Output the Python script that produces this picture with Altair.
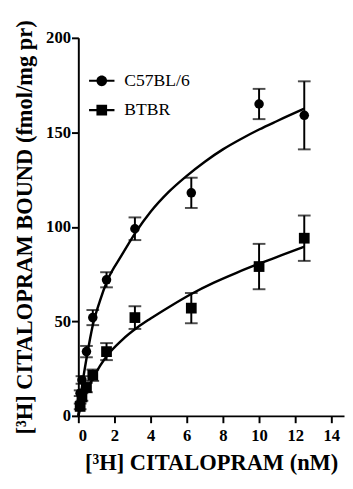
import altair as alt
import pandas as pd

# ---- data ----
strains = ["C57BL/6", "BTBR"]
conc = [0.1, 0.2, 0.45, 0.8, 1.56, 3.13, 6.25, 10, 12.5]
c57_mean = [12, 19, 34, 52, 72, 99, 118, 165, 159]
c57_sem = [1.5, 2, 3, 4, 4, 6, 8, 8, 18]
btbr_mean = [5, 10, 15, 21.5, 34, 52, 57, 79, 94]
btbr_sem = [1.5, 2, 2.5, 3, 4.5, 6, 8, 12, 12]

c57_fit_x = [0, 0.1, 0.25, 0.5, 0.8, 1.2, 1.6, 2.4, 3.2, 4, 5, 6, 7, 8, 9, 10, 11, 12.5]
c57_fit_y = [0, 8, 18.5, 33, 48, 61, 71.5, 85, 97.5, 108, 118.5, 127, 134.5, 141, 146.5, 151.5, 156, 162.5]
btbr_fit_x = [0, 0.1, 0.25, 0.5, 0.87, 1.2, 1.6, 2.4, 3.3, 4, 5, 6.25, 7.5, 8.75, 10, 11.25, 12.5]
btbr_fit_y = [0, 3.5, 8, 14, 21, 26.5, 32, 40, 47, 51.5, 57.5, 64.5, 70.5, 75.7, 80.5, 85, 89.5]

x_ticks = [0, 2, 4, 6, 8, 10, 12, 14]
y_ticks = [0, 50, 100, 150, 200]

points = pd.DataFrame({
    "conc": conc + conc,
    "bound": c57_mean + btbr_mean,
    "sem": c57_sem + btbr_sem,
    "strain": [strains[0]] * len(conc) + [strains[1]] * len(conc),
})
fit = pd.DataFrame({
    "conc": c57_fit_x + btbr_fit_x,
    "bound": c57_fit_y + btbr_fit_y,
    "strain": [strains[0]] * len(c57_fit_x) + [strains[1]] * len(btbr_fit_x),
})

FONT = "Liberation Serif"

x_axis = alt.Axis(
    values=x_ticks, title="[³H] CITALOPRAM (nM)", grid=False, labelOverlap=False,
    domainColor="black", domainWidth=2, tickColor="black", tickWidth=2, tickSize=7,
    labelFont=FONT, labelFontWeight="bold", labelFontSize=17, labelColor="black",
    labelPadding=5, titleFont=FONT, titleFontSize=23, titleFontWeight="bold",
    titleColor="black", titlePadding=9,
)
y_axis = alt.Axis(
    values=y_ticks, title="[³H] CITALOPRAM BOUND (fmol/mg pr)", grid=False, labelOverlap=False,
    domainColor="black", domainWidth=2, tickColor="black", tickWidth=2, tickSize=7,
    labelFont=FONT, labelFontWeight="bold", labelFontSize=17, labelColor="black",
    labelPadding=1, titleFont=FONT, titleFontSize=23, titleFontWeight="bold",
    titleColor="black", titlePadding=9,
)

xs = alt.Scale(domain=[0, 14.7], nice=False)
ys = alt.Scale(domain=[0, 200], nice=False)

X = alt.X("conc:Q", scale=xs, axis=x_axis)


def Yf(field):
    return alt.Y(field, scale=ys, axis=y_axis)


curve = alt.Chart(fit).mark_line(color="black", strokeWidth=2.5, interpolate="monotone").encode(
    x=X, y=Yf("bound:Q"), detail="strain:N"
)

err_base = alt.Chart(points).transform_calculate(
    lo="datum.bound - datum.sem", hi="datum.bound + datum.sem"
)
err = err_base.mark_rule(color="black", strokeWidth=2).encode(
    x=X, y=Yf("lo:Q"), y2="hi:Q"
)
cap_lo = err_base.mark_tick(orient="horizontal", size=13, thickness=2, color="black").encode(
    x=X, y=Yf("lo:Q")
)
cap_hi = err_base.mark_tick(orient="horizontal", size=13, thickness=2, color="black").encode(
    x=X, y=Yf("hi:Q")
)

dots = alt.Chart(points).mark_point(filled=True, color="black", opacity=1).encode(
    x=X, y=Yf("bound:Q"),
    shape=alt.Shape("strain:N", scale=alt.Scale(domain=strains, range=["circle", "square"]), legend=None),
    size=alt.Size("strain:N", scale=alt.Scale(domain=strains, range=[95, 121]), legend=None),
)

# legend glyphs: filled bar with a marker on it
circ_path = ("M-1,-0.08L1,-0.08L1,0.08L-1,0.08Z"
             "M0.42,0A0.42,0.42,0,1,1,-0.42,0A0.42,0.42,0,1,1,0.42,0Z")
sq_path = ("M-1,-0.08L1,-0.08L1,0.08L-1,0.08Z"
           "M-0.42,-0.42L0.42,-0.42L0.42,0.42L-0.42,0.42Z")

legend_carrier = alt.Chart(points).mark_point(filled=True, color="black", opacity=0).encode(
    x=X, y=Yf("bound:Q"),
    shape=alt.Shape(
        "strain:N",
        scale=alt.Scale(domain=strains, range=[circ_path, sq_path]),
        legend=alt.Legend(
            title=None, orient="none", legendX=11, legendY=31, padding=0,
            symbolSize=676, symbolFillColor="black", symbolStrokeWidth=0,
            symbolOpacity=1,
            labelFont=FONT, labelFontSize=18, labelColor="black", labelOffset=10,
            rowPadding=8,
        ),
    ),
)

chart = alt.layer(curve, err, cap_lo, cap_hi, dots, legend_carrier).resolve_scale(
    shape="independent", size="independent"
).properties(
    width=272, height=387,
    autosize=alt.AutoSizeParams(type="none"),
    padding={"left": 72, "top": 25, "right": 1, "bottom": 56},
).configure_view(stroke=None)

chart.save("out.html", embed_options={"renderer": "svg", "actions": False})
